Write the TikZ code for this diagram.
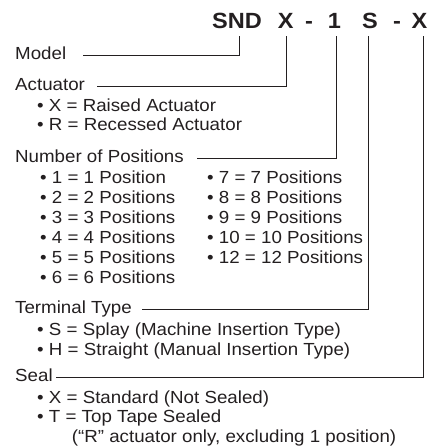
\documentclass[tikz,border=0pt]{standalone}
\usepackage{fontspec}
\setmainfont{Liberation Sans}[FakeStretch=1.07]
\usepackage{tikz}
\usetikzlibrary{calc}
\usetikzlibrary{positioning}
\definecolor{inkgray}{HTML}{231F20}

\begin{document}
\begin{tikzpicture}[x=1pt,y=-1pt]
% 1 = 1px of the drawing, y runs downwards
    \def\XLABEL{15}
    \def\XBULLET{37}
    \def\XCOLONE{40}
    \def\XCOLTWO{207}
    \def\YTOP{36} % lower end of the part code
    \def\ROWGAP{20}

    \tikzset{
      partcode/.style={font=\fontsize{22}{26}\selectfont\bfseries,
        inner sep=0pt, anchor=base, text=inkgray},
      fieldname/.style={font=\fontsize{17.5}{20}\selectfont,
        inner sep=0pt, anchor=base west, text=inkgray},
      option/.style={fieldname},
      leader/.style={draw=inkgray, line width=0.9pt},
    }
    \useasboundingbox (0,0) rectangle (430,448);

    % PART CODE
    \node[partcode] (tSND) at (237,28.3) {SND};
    \node[partcode] (tAct) at (285.7,28.3) {X};
    \node[partcode] (tDashA) at (309,28.3) {-};
    \node[partcode] (tPos) at (334.5,28.3) {1};
    \node[partcode] (tTerm) at (370,28.3) {S};
    \node[partcode] (tDashB) at (397,28.3) {-};
    \node[partcode] (tSeal) at (419.5,28.3) {X};

    \coordinate (eSND) at (239,\YTOP);
    \coordinate (eAct) at (286,\YTOP);
    \coordinate (ePos) at (336,\YTOP);
    \coordinate (eTerm) at (368,\YTOP);
    \coordinate (eSeal) at (423,\YTOP);

    % MODEL
    \node[fieldname] (lblModel) at (\XLABEL,59.3) {Model};
    \coordinate (lModel) at (83,55);
    \draw[leader] (lModel) -| (eSND);

    % ACTUATOR
    \node[fieldname] (lblAct) at (\XLABEL,90) {Actuator};
    \coordinate (lAct) at (97,86);
    \draw[leader] (lAct) -| (eAct);
    \node[option] (actX) at (\XBULLET,111.7) {• X = Raised Actuator};
    \node[option] (actR) at (\XBULLET,130) {• R = Recessed Actuator};

    % NUMBER OF POSITIONS
    \node[fieldname] (lblPos) at (\XLABEL,162.7) {Number of Positions};
    \coordinate (lPos) at (197,158.3);
    \draw[leader] (lPos) -| (ePos);
    \node[option] (pos1) at (\XCOLONE,183.3) {• 1 = 1 Position};
    \foreach \n in {2,...,6}
        \node[option] (pos\n) at (\XCOLONE,{183.3+(\n-1)*\ROWGAP})
            {• \n{} = \n{} Positions};
    \foreach \n [count=\i] in {7,8,9,10,12}
        \node[option] (pos\n) at (\XCOLTWO,{183.3+(\i-1)*\ROWGAP})
            {• \n{} = \n{} Positions};

    % TERMINAL TYPE
    \node[fieldname] (lblTerm) at (\XLABEL,313.3) {Terminal Type};
    \coordinate (lTerm) at (142,309);
    \draw[leader] (lTerm) -| (eTerm);
    \node[option] (termS) at (\XBULLET,335) {• S = Splay (Machine Insertion Type)};
    \node[option] (termH) at (\XBULLET,355) {• H = Straight (Manual Insertion Type)};

    % SEAL
    \node[fieldname] (lblSeal) at (\XLABEL,381) {Seal};
    \coordinate (lSeal) at (56,377);
    \draw[leader] (lSeal) -| (eSeal);
    \node[option] (sealX) at (\XBULLET,403.3) {• X = Standard (Not Sealed)};
    \node[option] (sealT) at (\XBULLET,422.7) {• T = Top Tape Sealed};
    \node[option] (sealNote) at (71.7,442.7) {(“R” actuator only, excluding 1 position)};

\end{tikzpicture}
\end{document}
